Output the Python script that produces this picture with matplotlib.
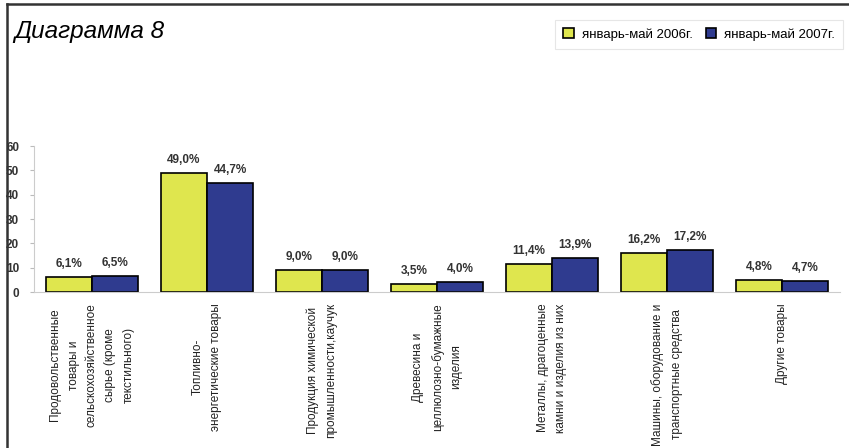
import matplotlib
matplotlib.use('Agg')
import matplotlib.pyplot as plt
from matplotlib.lines import Line2D
import numpy as np

plt.rcParams['font.family'] = ['Liberation Sans', 'DejaVu Sans']

categories = [
    'Продовольственные\nтовары и\nсельскохозяйственное\nсырье (кроме\nтекстильного)',
    'Топливно-\nэнергетические товары',
    'Продукция химической\nпромышленности,каучук',
    'Древесина и\nцеллюлозно-бумажные\nизделия',
    'Металлы, драгоценные\nкамни и изделия из них',
    'Машины, оборудование и\nтранспортные средства',
    'Другие товары',
]
series_names = ['январь-май 2006г.', 'январь-май 2007г.']
values_2006 = [6.1, 49.0, 9.0, 3.5, 11.4, 16.2, 4.8]
values_2007 = [6.5, 44.7, 9.0, 4.0, 13.9, 17.2, 4.7]
yticks = [0, 10, 20, 30, 40, 50, 60]

colors = ['#dfe64e', '#2f3b8f']

fig = plt.figure(figsize=(8.49, 4.48), dpi=100)
ax = fig.add_axes([0.0406, 0.348, 0.9484, 0.326])

x = np.arange(len(categories))
w = 0.4
for i, (vals, name) in enumerate(zip([values_2006, values_2007], series_names)):
    pos = x + (i - 0.5) * w
    ax.bar(pos, vals, w, color=colors[i], edgecolor='black', linewidth=1.2, label=name)
    for p, v in zip(pos, vals):
        ax.annotate(f'{v:.1f}%'.replace('.', ','), (p, v), xytext=(0, 5),
                    textcoords='offset points', ha='center', va='bottom',
                    fontsize=8.5, fontweight='bold', color='#333333')

ax.set_xlim(-0.5, len(categories) - 0.5)
ax.set_ylim(0, 60)
ax.set_yticks(yticks)
ax.set_yticklabels([str(t) for t in yticks], fontsize=8.5, fontweight='bold', color='#333333')
ax.tick_params(axis='y', length=3, color='#bbbbbb', pad=8)
ax.set_xticks(x)
ax.set_xticklabels(categories, rotation=90, fontsize=8.5, color='#222222',
                   va='top', ha='center', multialignment='center', linespacing=1.7)
ax.tick_params(axis='x', length=0, pad=8)
for s in ['top', 'right']:
    ax.spines[s].set_visible(False)
for s in ['left', 'bottom']:
    ax.spines[s].set_color('#cccccc')
    ax.spines[s].set_linewidth(0.8)

fig.text(0.017, 0.915, 'Диаграмма 8', fontsize=17.5, style='italic', color='black')

leg = ax.legend(loc='upper right', bbox_to_anchor=(0.993, 0.955), bbox_transform=fig.transFigure,
                ncol=2, fontsize=9.5, frameon=True, handlelength=0.8, handleheight=0.8,
                handletextpad=0.6, columnspacing=1.0, borderpad=0.6, borderaxespad=0,
                fancybox=False)
leg.get_frame().set_edgecolor('#e0e0e0')
leg.get_frame().set_linewidth(0.8)

# page frame (left and top edges)
fig.add_artist(Line2D([0.0085, 0.0085], [0, 0.99], transform=fig.transFigure, color='#333333', linewidth=1.8))
fig.add_artist(Line2D([0.0085, 1.0], [0.99, 0.99], transform=fig.transFigure, color='#333333', linewidth=1.8))

fig.savefig('out.png', dpi=100)
